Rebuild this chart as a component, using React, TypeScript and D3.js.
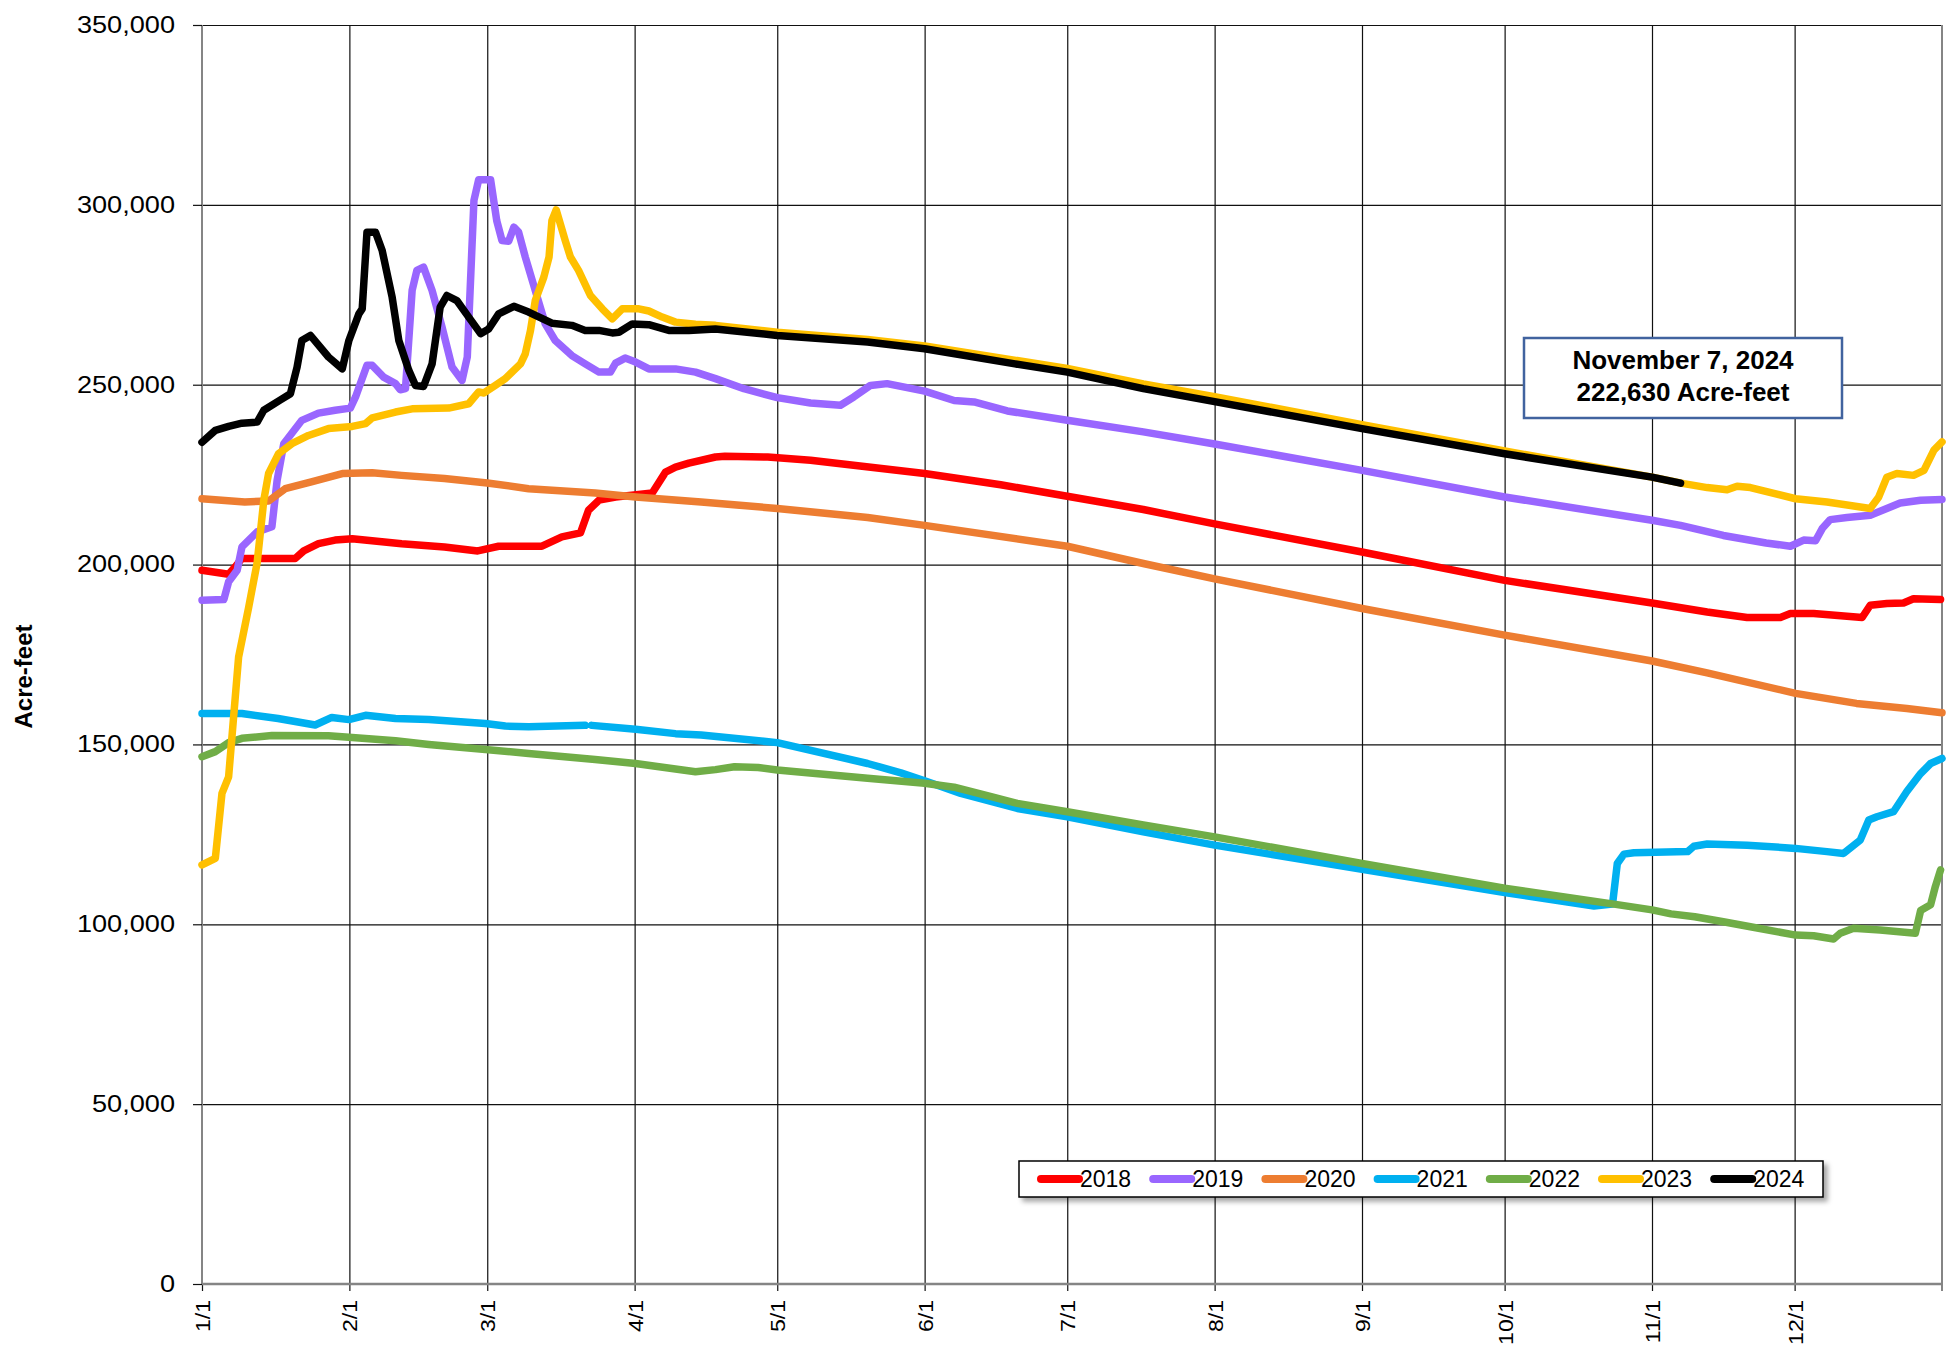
import React, { useRef, useEffect } from 'react';
import * as d3 from 'd3';

type Pt = [number, number | null];

// --- DATA (day of year in a leap year, acre-feet) ---
const YEARS = ['2018', '2019', '2020', '2021', '2022', '2023', '2024'];
const COLORS = ['#FF0000', '#9966FF', '#ED7D31', '#00B0F0', '#70AD47', '#FFC000', '#000000'];

const MONTH_DAYS = [0, 31, 60, 91, 121, 152, 182, 213, 244, 274, 305, 335];
const MONTH_LABELS = ['1/1', '2/1', '3/1', '4/1', '5/1', '6/1', '7/1', '8/1', '9/1', '10/1', '11/1', '12/1'];
const Y_TICKS = [0, 50000, 100000, 150000, 200000, 250000, 300000, 350000];

const LEVELS_2018: Pt[] = [
  [0, 198400], [5.6, 197300], [7, 199400], [8.4, 201700], [19.6, 201700], [21.4, 203800], [24.5, 205800],
  [28, 206800], [31.6, 207200], [42, 205800], [51, 204900], [58, 203800], [62.4, 205100], [71.5, 205100],
  [75.7, 207700], [79.6, 208800], [81.3, 215100], [83.5, 217900], [87, 218800], [94.7, 219900], [97.5, 225700],
  [99.6, 227100], [102.4, 228200], [108, 229900], [110, 230100], [119, 229900], [128, 229000], [152, 225300],
  [168, 222200], [182, 219000], [198, 215300], [213, 211300], [244, 203500], [274, 195600], [305, 189300],
  [316.6, 186800], [325, 185300], [332, 185300], [334.1, 186400], [339, 186400], [349.2, 185300], [350.9, 188700],
  [354.4, 189200], [357.9, 189300], [360, 190500], [365.7, 190300],
];

const LEVELS_2019: Pt[] = [
  [0, 190100], [4.6, 190300], [5.6, 195200], [7.4, 198400], [8.4, 204900], [11.6, 209100], [14.7, 210500],
  [15.8, 223400], [17.2, 233600], [21, 240100], [24.5, 242100], [28, 242900], [31.2, 243500], [32.3, 246600],
  [34.7, 255400], [35.8, 255400], [38.2, 252100], [40.7, 250300], [41.7, 248600], [42.8, 248900], [44.2, 276200],
  [45.2, 281800], [46.6, 282700], [48.4, 276200], [50.5, 266000], [52.6, 254900], [54.7, 251200], [55.8, 257700],
  [57.2, 301200], [58.2, 307000], [60.7, 307000], [62, 295600], [63.1, 290100], [64.5, 289900], [65.6, 293800],
  [66.6, 292400], [68, 285500], [70.1, 276200], [72.2, 266900], [74.3, 262300], [77.8, 258100], [80.6, 255800],
  [83.5, 253500], [85.9, 253500], [87, 256000], [89, 257400], [91.2, 256300], [94, 254400], [99.6, 254400],
  [103.8, 253500], [108, 251700], [114, 248900], [121, 246400], [128, 244900], [134.3, 244300], [137.1, 246600],
  [140.6, 249800], [144.1, 250300], [152, 248200], [158.2, 245600], [162.4, 245200], [169.4, 242700],
  [182, 240100], [198, 236900], [213, 233500], [244, 226200], [274, 218800], [305, 212300], [311, 210900],
  [320, 208100], [329, 206000], [334.1, 205100], [336.9, 206800], [339.4, 206600], [340.8, 210000],
  [342.5, 212500], [346, 213100], [350.9, 213700], [357.2, 217100], [361.5, 217900], [366, 218100],
];

const LEVELS_2020: Pt[] = [
  [0, 218300], [9, 217400], [14, 217700], [17.5, 221100], [23, 223000], [29.5, 225300], [35.8, 225500],
  [42, 224800], [51, 223900], [60, 222700], [68.7, 221100], [82.7, 219900], [91.2, 218800], [105, 217400],
  [121, 215600], [140, 213100], [152, 210900], [182, 205100], [198, 200300], [213, 196000], [244, 187800],
  [274, 180400], [305, 173200], [316.6, 169900], [335.2, 164200], [348, 161400], [358.6, 160000], [366, 158800],
];

const LEVELS_2021: Pt[] = [
  [0, 158600], [8.4, 158600], [16, 157200], [23.8, 155400], [27.3, 157500], [30.9, 156900], [34.4, 158100],
  [40.7, 157200], [47.7, 156900], [59.6, 155800], [63.8, 155100], [68.7, 154900], [80.6, 155300], [81.3, null],
  [82, 155300], [91.2, 154200], [99.6, 153000], [105, 152600], [121, 150500], [140, 144700], [147, 142100],
  [152, 139900], [159.6, 136400], [171.5, 132200], [182, 129900], [198, 125700], [213, 122000], [244, 115300],
  [274, 108800], [292.8, 105100], [296.7, 105600], [297.7, 116900], [299.1, 119500], [301.2, 119900],
  [312.5, 120200], [313.8, 121700], [316.6, 122300], [325, 122000], [335.2, 121100], [341.8, 120200],
  [345.3, 119700], [348.8, 123400], [350.6, 129000], [352.3, 129900], [355.8, 131300], [358.6, 136900],
  [361.5, 141900], [363.6, 144700], [366, 146100],
];

const LEVELS_2022: Pt[] = [
  [0, 146600], [2.8, 148000], [5.6, 150500], [8.4, 151700], [14.7, 152500], [26.6, 152400], [31.6, 151900],
  [40.7, 151000], [47.7, 150000], [59.6, 148600], [68.7, 147500], [82.7, 145800], [91.2, 144700],
  [103.8, 142400], [108, 143000], [112, 143800], [117, 143600], [121, 142900], [140, 140600], [152, 139200],
  [158.2, 138100], [166, 135500], [171.5, 133600], [182, 131300], [198, 127600], [213, 124300], [244, 116900],
  [274, 110000], [297, 105600], [305, 104000], [309, 102900], [314, 102100], [320, 100700], [325.7, 99300],
  [335.2, 97000], [339, 96800], [343.2, 95900], [344.6, 97500], [347.4, 98900], [353, 98400], [360.4, 97500],
  [361.5, 103800], [363.6, 105400], [364.6, 110500], [365.7, 115100],
];

const LEVELS_2023: Pt[] = [
  [0, 116500], [2.8, 118300], [4.2, 136400], [5.6, 141000], [7.7, 174300], [9.8, 188000], [11.6, 200500],
  [13, 217900], [14, 225300], [16.1, 230800], [18.9, 233600], [22.4, 235900], [26.6, 237800], [31.6, 238400],
  [34.4, 239200], [35.8, 240800], [40.7, 242400], [44.2, 243300], [51.9, 243500], [56.1, 244700], [58.2, 248000],
  [59.3, 247700], [61.7, 249800], [63.8, 251700], [67, 255800], [68, 258600], [69.1, 265100], [70.1, 273400],
  [71.9, 279900], [73, 285500], [73.6, 295600], [74.5, 298600], [76.4, 290100], [77.5, 285500], [79.2, 281800],
  [81.7, 274800], [84.2, 271100], [86.3, 268300], [88.4, 271100], [91.9, 271100], [94, 270500], [96.8, 268800],
  [99.6, 267400], [103.8, 266800], [108, 266500], [121, 264600], [140, 262600], [152, 260800], [182, 254500],
  [198, 250200], [213, 246700], [244, 238900], [274, 231600], [305, 224300], [311.7, 222500], [316.6, 221400],
  [320.8, 220800], [322.9, 221800], [325.7, 221400], [335.2, 218300], [341.8, 217400], [350.9, 215600],
  [352.7, 218800], [354.4, 224300], [356.5, 225300], [360, 224800], [362.2, 226200], [364.3, 231800],
  [366, 234100],
];

const LEVELS_2024: Pt[] = [
  [0, 234000], [2.8, 237300], [5.6, 238400], [8.4, 239300], [11.6, 239600], [13, 242900], [16.5, 245800],
  [18.6, 247500], [20, 254900], [21, 262300], [22.8, 263700], [26.6, 257700], [29.5, 254400], [30.9, 262300],
  [33, 269700], [33.7, 271100], [34.7, 292400], [36.5, 292400], [37.9, 287300], [40, 274300], [41.4, 262300],
  [43.5, 254000], [44.9, 249800], [46.6, 249500], [48.4, 255800], [50.1, 271600], [51.5, 274800],
  [53.6, 273400], [56.1, 268800], [58.6, 264200], [60.3, 265500], [62.4, 269700], [65.6, 271800],
  [68.7, 270200], [73.6, 267100], [77.8, 266500], [80.6, 265100], [83.5, 265100], [86.3, 264400],
  [87.7, 264600], [90.5, 266900], [94, 266700], [98.2, 265100], [102.4, 265100], [108, 265500], [121, 263700],
  [140, 261900], [152, 260000], [171, 255800], [182, 253500], [198, 248900], [213, 245300], [244, 237800],
  [274, 230800], [305, 224300], [311, 222630],
];

const ALL_LEVELS = [LEVELS_2018, LEVELS_2019, LEVELS_2020, LEVELS_2021, LEVELS_2022, LEVELS_2023, LEVELS_2024];

const NOTE_LINES = ['November 7, 2024', '222,630 Acre-feet'];

export default function App() {
  const svgRef = useRef<SVGSVGElement>(null);

  useEffect(() => {
    if (!svgRef.current) return;

    const W = 1959;
    const H = 1349;
    const plot = { left: 202, right: 1942, top: 25, bottom: 1284 };
    const font = '"Liberation Sans", Arial, sans-serif';

    const svg = d3.select(svgRef.current);
    svg.selectAll('*').remove();
    svg.attr('width', W).attr('height', H);

    svg.append('rect').attr('width', W).attr('height', H).attr('fill', '#fff');

    const defs = svg.append('defs');
    defs.append('filter')
      .attr('id', 'legendShadow')
      .attr('x', '-5%').attr('y', '-30%').attr('width', '110%').attr('height', '170%')
      .append('feDropShadow')
      .attr('dx', 4).attr('dy', 4).attr('stdDeviation', 2.5)
      .attr('flood-color', '#000').attr('flood-opacity', 0.35);

    const x = d3.scaleLinear().domain([0, 366]).range([plot.left, plot.right]);
    const y = d3.scaleLinear().domain([0, 350000]).range([plot.bottom, plot.top]);

    const gridColor = '#111';

    // --- GRIDLINES ---
    svg.append('g')
      .attr('transform', `translate(${plot.left},0)`)
      .call(d3.axisLeft(y).tickValues(Y_TICKS).tickSize(-(plot.right - plot.left)).tickFormat(() => ''))
      .call(g => g.select('.domain').remove())
      .call(g => g.selectAll('.tick line').attr('stroke', gridColor).attr('stroke-width', 1.2));

    svg.append('g')
      .attr('transform', `translate(0,${plot.bottom})`)
      .call(d3.axisBottom(x).tickValues(MONTH_DAYS.slice(1)).tickSize(-(plot.bottom - plot.top)).tickFormat(() => ''))
      .call(g => g.select('.domain').remove())
      .call(g => g.selectAll('.tick line').attr('stroke', gridColor).attr('stroke-width', 1.2));

    // --- BORDERS ---
    const borderColor = '#858585';
    svg.append('line').attr('x1', plot.left).attr('x2', plot.left).attr('y1', plot.top).attr('y2', plot.bottom)
      .attr('stroke', borderColor).attr('stroke-width', 2);
    svg.append('line').attr('x1', plot.right).attr('x2', plot.right).attr('y1', plot.top).attr('y2', plot.bottom + 7)
      .attr('stroke', borderColor).attr('stroke-width', 2);

    // --- Y AXIS ---
    const yScaleX = 1.18;
    svg.append('g')
      .attr('transform', `translate(${plot.left},0)`)
      .call(d3.axisLeft(y).tickValues(Y_TICKS).tickSizeInner(9).tickSizeOuter(0).tickPadding(18)
        .tickFormat(d => d3.format(',')(d as number)))
      .call(g => g.select('.domain').remove())
      .call(g => g.selectAll('.tick line').attr('stroke', gridColor).attr('stroke-width', 1.2))
      .call(g => g.selectAll('.tick text')
        .attr('x', -27 / yScaleX)
        .attr('transform', `scale(${yScaleX},1)`)
        .attr('fill', '#000')
        .style('font-family', font)
        .style('font-size', '23px'));

    // --- X AXIS ---
    const xScaleX = 1.1;
    svg.append('g')
      .attr('transform', `translate(0,${plot.bottom})`)
      .call(d3.axisBottom(x).tickValues(MONTH_DAYS).tickSizeInner(7).tickSizeOuter(0)
        .tickFormat((_, i) => MONTH_LABELS[i]))
      .call(g => g.select('.domain').remove())
      .call(g => g.selectAll('.tick line').attr('stroke', gridColor).attr('stroke-width', 1.2))
      .call(g => g.selectAll('.tick text')
        .attr('x', -16 / xScaleX)
        .attr('y', 0)
        .attr('dy', '0.36em')
        .attr('text-anchor', 'end')
        .attr('transform', `rotate(-90) scale(${xScaleX},1)`)
        .attr('fill', '#000')
        .style('font-family', font)
        .style('font-size', '21px'));

    svg.append('line').attr('x1', plot.left).attr('x2', plot.right).attr('y1', plot.bottom).attr('y2', plot.bottom)
      .attr('stroke', borderColor).attr('stroke-width', 2.5);

    // Y axis title
    svg.append('text')
      .attr('transform', `translate(24,${(plot.top + plot.bottom) / 2 + 22}) rotate(-90)`)
      .attr('text-anchor', 'middle')
      .attr('dy', '0.35em')
      .style('font-family', font)
      .style('font-weight', 'bold')
      .style('font-size', '24px')
      .text('Acre-feet');

    // --- SERIES ---
    const line = d3.line<Pt>()
      .defined(d => d[1] !== null)
      .x(d => x(d[0]))
      .y(d => y(d[1] as number));

    ALL_LEVELS.forEach((pts, i) => {
      svg.append('path')
        .datum(pts)
        .attr('d', line)
        .attr('fill', 'none')
        .attr('stroke', COLORS[i])
        .attr('stroke-width', 7.5)
        .attr('stroke-linejoin', 'round')
        .attr('stroke-linecap', 'round');
    });

    // --- ANNOTATION ---
    const note = svg.append('g');
    note.append('rect')
      .attr('x', 1524).attr('y', 338).attr('width', 318).attr('height', 80)
      .attr('fill', '#fff').attr('stroke', '#41639F').attr('stroke-width', 2.5);
    note.selectAll('text')
      .data(NOTE_LINES)
      .enter()
      .append('text')
      .attr('x', 1683)
      .attr('y', (_, i) => 369 + i * 32)
      .attr('text-anchor', 'middle')
      .style('font-family', font)
      .style('font-weight', 'bold')
      .style('font-size', '26px')
      .text(d => d);

    // --- LEGEND ---
    const legend = svg.append('g');
    legend.append('rect')
      .attr('x', 1019).attr('y', 1161).attr('width', 804).attr('height', 36)
      .attr('fill', '#fff').attr('stroke', '#000').attr('stroke-width', 1.5)
      .attr('filter', 'url(#legendShadow)');
    const item = legend.selectAll('g.item')
      .data(YEARS)
      .enter()
      .append('g')
      .attr('class', 'item')
      .attr('transform', (_, i) => `translate(${1041 + i * 112.2},1179)`);
    item.append('line')
      .attr('x1', 0).attr('x2', 38)
      .attr('stroke', (_, i) => COLORS[i])
      .attr('stroke-width', 8)
      .attr('stroke-linecap', 'round');
    item.append('text')
      .attr('x', 39)
      .attr('dy', '0.36em')
      .style('font-family', font)
      .style('font-size', '23px')
      .text(d => d);
  }, []);

  return (
    <div style={{ position: 'absolute', left: 0, top: 0 }}>
      <svg ref={svgRef}></svg>
    </div>
  );
}
